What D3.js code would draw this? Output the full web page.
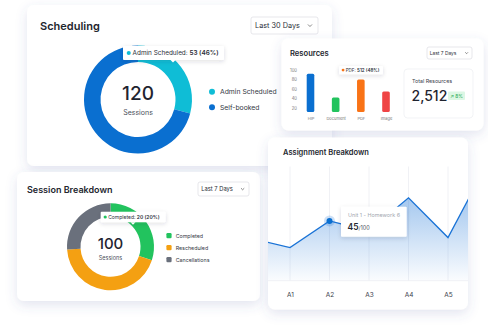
<!DOCTYPE html>
<html><head><meta charset="utf-8">
<script src="https://cdn.jsdelivr.net/npm/d3@7"></script>
<style>
html,body{margin:0;padding:0;background:#fff;}
svg{display:block;font-family:Inter,"Open Sans",sans-serif;}
</style></head>
<body>
<script>
// ---- data ----
const schedCategories = ["Admin Scheduled", "Self-booked"];
const schedValues = [35, 85];
const schedTotal = "120";
const schedTooltip = ["Admin Scheduled: ", "53 (46%)"];

const resCategories = ["HIP", "Document", "PDF", "Image"];
const resValues = [92, 42, 80, 55];
const resTicks = [20, 40, 60, 80, 100];
const resTooltip = ["PDF: ", "512 (48%)"];
const resTotal = "2,512";
const resChange = "↗ 8%";

const sessCategories = ["Completed", "Rescheduled", "Cancellations"];
const sessValues = [30, 44, 26];
const sessTotal = "100";
const sessTooltip = ["Completed: ", "20 (20%)"];

const asgCategories = ["A0", "A1", "A2", "A3", "A4", "A5", "A6"];
const asgTickLabels = ["A1", "A2", "A3", "A4", "A5"];
const asgValues = [32, 25, 45, 37.5, 62.5, 32.5, 88.5];
const asgTooltipTitle = "Unit 1 - Homework 6";
const asgTooltipValue = "45";
const asgTooltipMax = "/100";

// ---- drawing ----
const W = 488, H = 329;
const svg = d3.select("body").append("svg").attr("width", W).attr("height", H);
const defs = svg.append("defs");
const sh = defs.append("filter").attr("id","cardShadow").attr("x","-20%").attr("y","-20%").attr("width","140%").attr("height","150%");
sh.append("feDropShadow").attr("dx",0).attr("dy",4).attr("stdDeviation",6).attr("flood-color","#4a5ba0").attr("flood-opacity",0.16);
const sh2 = defs.append("filter").attr("id","tipShadow").attr("x","-30%").attr("y","-50%").attr("width","160%").attr("height","220%");
sh2.append("feDropShadow").attr("dx",0).attr("dy",1.5).attr("stdDeviation",2).attr("flood-color","#334").attr("flood-opacity",0.15);
const grad = defs.append("linearGradient").attr("id","areaGrad").attr("x1",0).attr("y1",0).attr("x2",0).attr("y2",1);
grad.append("stop").attr("offset","0%").attr("stop-color","#1a73d6").attr("stop-opacity",0.55);
grad.append("stop").attr("offset","100%").attr("stop-color","#1a73d6").attr("stop-opacity",0.02);

function card(x,y,w,h){
  return svg.append("rect").attr("x",x).attr("y",y).attr("width",w).attr("height",h)
    .attr("rx",7).attr("fill","#fff").attr("filter","url(#cardShadow)");
}
function dropdown(x,y,w,h,label,fs){
  const g = svg.append("g");
  g.append("rect").attr("x",x).attr("y",y).attr("width",w).attr("height",h).attr("rx",2)
    .attr("fill","#fff").attr("stroke","#dcdde3").attr("stroke-width",0.7);
  g.append("text").attr("x",x+fs*0.55).attr("y",y+h/2+fs*0.36).attr("font-size",fs).attr("fill","#2b2f38").text(label);
  const cx = x+w-fs*1.1, cy = y+h/2;
  const s = fs*0.28;
  g.append("path").attr("d",`M${cx-s},${cy-s*0.5}L${cx},${cy+s*0.5}L${cx+s},${cy-s*0.5}`)
    .attr("fill","none").attr("stroke","#555").attr("stroke-width",0.7);
}
function tooltip(x,y,w,h,color,label,fs,pointerX){
  const g = svg.append("g");
  g.append("rect").attr("x",x).attr("y",y).attr("width",w).attr("height",h).attr("rx",1)
    .attr("fill","#fff").attr("filter","url(#tipShadow)");
  if(pointerX!==undefined){
    g.append("path").attr("d",`M${pointerX-2.5},${y+h}L${pointerX},${y+h+2.5}L${pointerX+2.5},${y+h}Z`).attr("fill","#fff");
  }
  g.append("circle").attr("cx",x+fs*0.9).attr("cy",y+h/2).attr("r",fs*0.32).attr("fill",color);
  const t = g.append("text").attr("x",x+fs*1.5).attr("y",y+h/2+fs*0.36).attr("font-size",fs).attr("fill","#2b2f38");
  t.append("tspan").text(label[0]);
  t.append("tspan").attr("font-weight",600).text(label[1]);
}

// ===== Scheduling card =====
card(27,5,305,161);
svg.append("text").attr("x",40).attr("y",29.5).attr("font-size",11).attr("font-weight",600).attr("fill","#23262e").text("Scheduling");
dropdown(251,17,67,17,"Last 30 Days",7.3);
{
  const cx=138, cy=99.5;
  const colors = d3.scaleOrdinal().domain(schedCategories).range(["#0fbdd6","#0a6fd0"]);
  const pie = d3.pie().sort(null).value(d=>d.v);
  const arcs = pie(schedCategories.map((c,i)=>({c,v:schedValues[i]})));
  const arc = d3.arc().innerRadius(37.5).outerRadius(54);
  svg.append("g").attr("transform",`translate(${cx},${cy})`).selectAll("path").data(arcs).join("path")
    .attr("d",arc).attr("fill",d=>colors(d.data.c));
  svg.append("text").attr("x",cx).attr("y",100).attr("text-anchor","middle").attr("font-size",19).attr("font-weight",500).attr("fill","#1f2430").text(schedTotal);
  svg.append("text").attr("x",cx).attr("y",114.5).attr("text-anchor","middle").attr("font-size",7).attr("fill","#4a4f5a").text("Sessions");
  const lg = svg.append("g").selectAll("g").data(schedCategories).join("g")
    .attr("transform",(d,i)=>`translate(212,${91.7+i*15.5})`);
  lg.append("circle").attr("r",3).attr("fill",d=>colors(d));
  lg.append("text").attr("x",8).attr("y",2.5).attr("font-size",6.8).attr("fill","#333844").text(d=>d);
  tooltip(123,46,101,14,"#0fbdd6",schedTooltip,6.4,173);
}

// ===== Session Breakdown card =====
card(17,172,243,129);
svg.append("text").attr("x",27).attr("y",192.5).attr("font-size",9).attr("font-weight",600).attr("fill","#23262e").text("Session Breakdown");
dropdown(198,182,51,14,"Last 7 Days",5.8);
{
  const cx=110.5, cy=246.8;
  const colors = d3.scaleOrdinal().domain(sessCategories).range(["#22c35e","#f4a012","#6a707c"]);
  const pie = d3.pie().sort(null).value(d=>d.v);
  const arcs = pie(sessCategories.map((c,i)=>({c,v:sessValues[i]})));
  const arc = d3.arc().innerRadius(30).outerRadius(43.5);
  svg.append("g").attr("transform",`translate(${cx},${cy})`).selectAll("path").data(arcs).join("path")
    .attr("d",arc).attr("fill",d=>colors(d.data.c));
  svg.append("text").attr("x",cx).attr("y",248.5).attr("text-anchor","middle").attr("font-size",15).attr("font-weight",500).attr("fill","#1f2430").text(sessTotal);
  svg.append("text").attr("x",cx).attr("y",259.5).attr("text-anchor","middle").attr("font-size",5.5).attr("fill","#4a4f5a").text("Sessions");
  const lg = svg.append("g").selectAll("g").data(sessCategories).join("g")
    .attr("transform",(d,i)=>`translate(169,${235.7+i*12})`);
  lg.append("rect").attr("x",-2.6).attr("y",-2.6).attr("width",5.2).attr("height",5.2).attr("rx",1.2).attr("fill",d=>colors(d));
  lg.append("text").attr("x",6.7).attr("y",1.9).attr("font-size",5.3).attr("fill","#333844").text(d=>d);
  tooltip(100.7,211.7,65,10.6,"#22c35e",sessTooltip,5,133);
}

// ===== Resources card =====
card(281.5,38.5,202,92);
svg.append("text").attr("x",290).attr("y",56).attr("font-size",7.6).attr("font-weight",600).attr("fill","#23262e").text("Resources");
dropdown(427,47,45,12,"Last 7 Days",4.9);
{
  const x = d3.scalePoint().domain(resCategories).range([310.5,386]);
  const y = d3.scaleLinear().domain([10,100]).range([112.8,70]);
  const colors = d3.scaleOrdinal().domain(resCategories).range(["#0a6fd0","#22c35e","#f97316","#ef4444"]);
  const ax = svg.append("g").attr("transform","translate(297,0)").call(d3.axisLeft(y).tickValues(resTicks).tickSize(0).tickPadding(0));
  ax.select(".domain").remove();
  ax.selectAll("text").attr("font-size",4.2).attr("fill","#777").attr("font-family","Inter,sans-serif");
  svg.append("g").selectAll("rect").data(resCategories).join("rect")
    .attr("x",d=>x(d)-3.8).attr("width",7.6)
    .attr("y",(d,i)=>y(resValues[i])).attr("height",(d,i)=>y(10)-y(resValues[i])-0.8)
    .attr("rx",1.5).attr("fill",d=>colors(d));
  const xa = svg.append("g").attr("transform","translate(0,117)").call(d3.axisBottom(x).tickSize(0).tickPadding(0));
  xa.select(".domain").remove();
  xa.selectAll("text").attr("font-size",4).attr("fill","#777").attr("font-family","Inter,sans-serif").attr("dy","0.71em");
  tooltip(339,66,44,8.2,"#f97316",resTooltip,4.5);
  // total box
  svg.append("rect").attr("x",404).attr("y",69).attr("width",69).attr("height",49).attr("rx",3.5)
    .attr("fill","#fff").attr("stroke","#eceef2").attr("stroke-width",0.7);
  svg.append("text").attr("x",412).attr("y",83).attr("font-size",5.3).attr("fill","#3c414c").text("Total Resources");
  svg.append("text").attr("x",411.5).attr("y",101).attr("font-size",14).attr("font-weight",500).attr("fill","#1f2430").text(resTotal);
  svg.append("rect").attr("x",448).attr("y",91.5).attr("width",17).attr("height",8.5).attr("rx",1).attr("fill","#dcf7e4");
  svg.append("text").attr("x",456.5).attr("y",97.6).attr("text-anchor","middle").attr("font-size",4.8).attr("fill","#1fa74f").text(resChange);
}

// ===== Assignment Breakdown card =====
card(268,137.5,200,172);
svg.append("text").attr("x",283).attr("y",154.5).attr("font-size",7.5).attr("font-weight",600).attr("fill","#23262e").text("Assignment Breakdown");
{
  defs.append("clipPath").attr("id","asgClip").append("rect")
    .attr("x",268).attr("y",137.5).attr("width",200).attr("height",172).attr("rx",7);
  const x = d3.scalePoint().domain(asgCategories).range([250.5,487.5]);
  const y = d3.scaleLinear().domain([0,100]).range([280.7,148]);
  const g = svg.append("g").attr("clip-path","url(#asgClip)");
  g.selectAll("line.grid").data(asgTickLabels).join("line").attr("class","grid")
    .attr("x1",d=>x(d)).attr("x2",d=>x(d)).attr("y1",166.5).attr("y2",280.7)
    .attr("stroke","#eceef2").attr("stroke-width",0.8);
  const pts = asgCategories.map((c,i)=>[x(c),y(asgValues[i])]);
  g.append("path").datum(pts).attr("d",d3.area().x(d=>d[0]).y0(y(0)).y1(d=>d[1])).attr("fill","url(#areaGrad)");
  g.append("line").attr("x1",268).attr("x2",468).attr("y1",y(0)).attr("y2",y(0)).attr("stroke","#eceef2").attr("stroke-width",0.8);
  g.append("path").datum(pts).attr("d",d3.line().x(d=>d[0]).y(d=>d[1])).attr("fill","none")
    .attr("stroke","#1a73d6").attr("stroke-width",1.3).attr("stroke-linejoin","miter");
  const xa = svg.append("g").attr("transform","translate(0,292)").call(d3.axisBottom(x).tickValues(asgTickLabels).tickSize(0).tickPadding(0));
  xa.select(".domain").remove();
  xa.selectAll("text").attr("font-size",6.5).attr("fill","#3c414c").attr("font-family","Inter,sans-serif").attr("dy","0.71em");
  // highlighted point
  const px = x("A2"), py = y(asgValues[2]);
  svg.append("circle").attr("cx",px).attr("cy",py).attr("r",5.5).attr("fill","#1a73d6").attr("fill-opacity",0.22);
  svg.append("circle").attr("cx",px).attr("cy",py).attr("r",3).attr("fill","#0a6fd0");
  // tooltip
  svg.append("rect").attr("x",341).attr("y",206.7).attr("width",65.7).attr("height",30).attr("rx",1)
    .attr("fill","#fff").attr("filter","url(#tipShadow)");
  svg.append("text").attr("x",348).attr("y",216.5).attr("font-size",5.4).attr("fill","#a3a7b0").text(asgTooltipTitle);
  const t = svg.append("text").attr("x",347.5).attr("y",229.5).attr("fill","#23262e");
  t.append("tspan").attr("font-size",8.5).attr("font-weight",600).text(asgTooltipValue);
  t.append("tspan").attr("font-size",5.5).attr("fill","#4a4f5a").text(asgTooltipMax);
}
</script>
</body></html>
